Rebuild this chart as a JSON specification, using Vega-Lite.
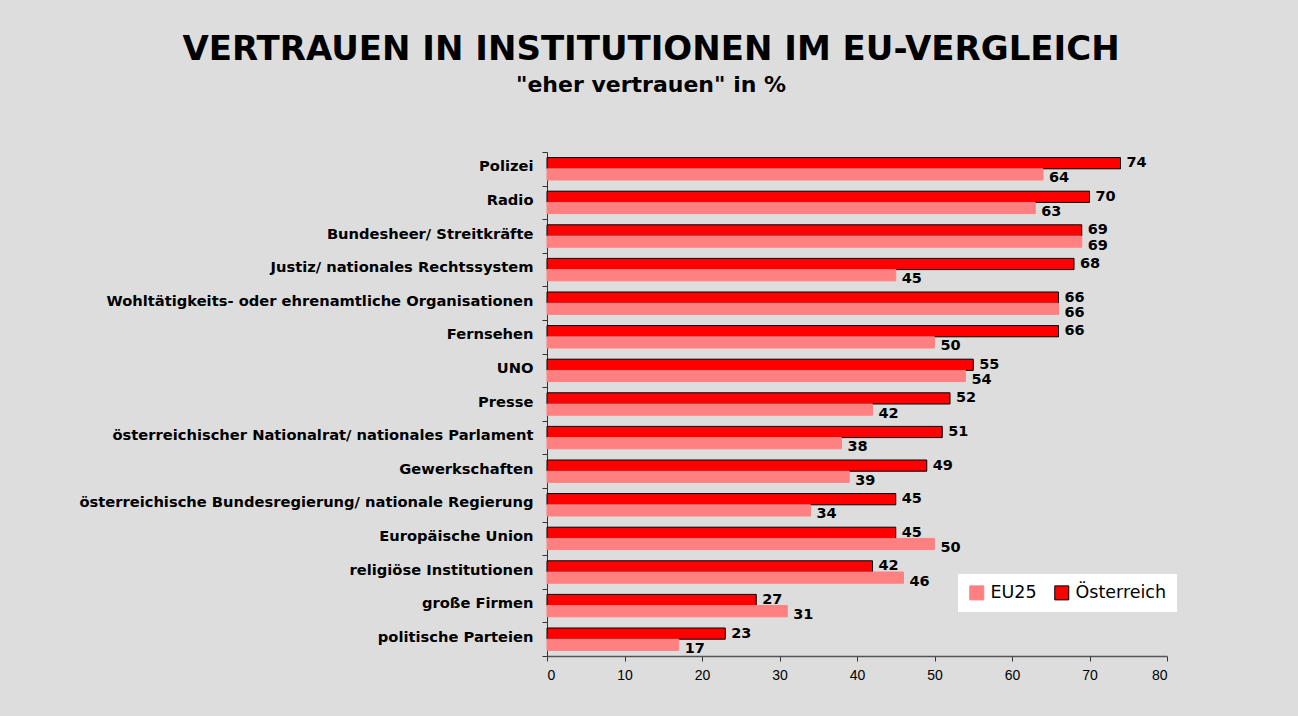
{
  "$schema": "https://vega.github.io/schema/vega-lite/v6.json",
  "background": "#dddddd",
  "autosize": {"type": "none"},
  "padding": {"left": 547, "top": 152, "right": 131, "bottom": 60},
  "width": 620,
  "height": 504,
  "title": {
    "text": "VERTRAUEN IN INSTITUTIONEN IM EU-VERGLEICH",
    "subtitle": "\"eher vertrauen\" in %",
    "anchor": "middle",
    "frame": "group",
    "dx": -206,
    "font": "DejaVu Sans",
    "fontSize": 34,
    "fontWeight": "bold",
    "color": "#000000",
    "subtitleFont": "DejaVu Sans",
    "subtitleFontSize": 22,
    "subtitleFontWeight": "bold",
    "subtitleColor": "#000000",
    "subtitlePadding": 8,
    "offset": 48
  },
  "data": {
    "values": [
      {"inst": "Polizei", "group": "Österreich", "value": 74},
      {"inst": "Polizei", "group": "EU25", "value": 64},
      {"inst": "Radio", "group": "Österreich", "value": 70},
      {"inst": "Radio", "group": "EU25", "value": 63},
      {"inst": "Bundesheer/ Streitkräfte", "group": "Österreich", "value": 69},
      {"inst": "Bundesheer/ Streitkräfte", "group": "EU25", "value": 69},
      {"inst": "Justiz/ nationales Rechtssystem", "group": "Österreich", "value": 68},
      {"inst": "Justiz/ nationales Rechtssystem", "group": "EU25", "value": 45},
      {"inst": "Wohltätigkeits- oder ehrenamtliche Organisationen", "group": "Österreich", "value": 66},
      {"inst": "Wohltätigkeits- oder ehrenamtliche Organisationen", "group": "EU25", "value": 66},
      {"inst": "Fernsehen", "group": "Österreich", "value": 66},
      {"inst": "Fernsehen", "group": "EU25", "value": 50},
      {"inst": "UNO", "group": "Österreich", "value": 55},
      {"inst": "UNO", "group": "EU25", "value": 54},
      {"inst": "Presse", "group": "Österreich", "value": 52},
      {"inst": "Presse", "group": "EU25", "value": 42},
      {"inst": "österreichischer Nationalrat/ nationales Parlament", "group": "Österreich", "value": 51},
      {"inst": "österreichischer Nationalrat/ nationales Parlament", "group": "EU25", "value": 38},
      {"inst": "Gewerkschaften", "group": "Österreich", "value": 49},
      {"inst": "Gewerkschaften", "group": "EU25", "value": 39},
      {"inst": "österreichische Bundesregierung/ nationale Regierung", "group": "Österreich", "value": 45},
      {"inst": "österreichische Bundesregierung/ nationale Regierung", "group": "EU25", "value": 34},
      {"inst": "Europäische Union", "group": "Österreich", "value": 45},
      {"inst": "Europäische Union", "group": "EU25", "value": 50},
      {"inst": "religiöse Institutionen", "group": "Österreich", "value": 42},
      {"inst": "religiöse Institutionen", "group": "EU25", "value": 46},
      {"inst": "große Firmen", "group": "Österreich", "value": 27},
      {"inst": "große Firmen", "group": "EU25", "value": 31},
      {"inst": "politische Parteien", "group": "Österreich", "value": 23},
      {"inst": "politische Parteien", "group": "EU25", "value": 17}
    ]
  },
  "encoding": {
    "y": {
      "field": "inst",
      "type": "nominal",
      "sort": null,
      "title": null,
      "scale": {"paddingInner": 0, "paddingOuter": 0},
      "axis": {
        "domainColor": "#333333",
        "tickColor": "#333333",
        "tickBand": "extent",
        "tickSize": 5,
        "labelFont": "DejaVu Sans",
        "labelFontWeight": "bold",
        "labelFontSize": 14.7,
        "labelColor": "#000000",
        "labelPadding": 9,
        "labelLimit": 600,
        "labelBaseline": "middle",
        "labelOffset": -2
      }
    },
    "yOffset": {
      "field": "group",
      "type": "nominal",
      "scale": {"domain": ["Österreich", "EU25"], "paddingInner": 0, "paddingOuter": 0.5}
    },
    "x": {
      "field": "value",
      "type": "quantitative",
      "title": null,
      "scale": {"domain": [0, 80]},
      "axis": {
        "values": [0, 10, 20, 30, 40, 50, 60, 70, 80],
        "grid": false,
        "domainColor": "#555555",
        "domainWidth": 1.5,
        "tickColor": "#333333",
        "tickSize": 5,
        "labelFont": "Liberation Sans",
        "labelFontSize": 14,
        "labelColor": "#000000",
        "labelPadding": 7
      }
    }
  },
  "layer": [
    {
      "mark": {"type": "bar", "strokeWidth": 1},
      "encoding": {
        "fill": {
          "field": "group",
          "type": "nominal",
          "scale": {"domain": ["EU25", "Österreich"], "range": ["#ff8080", "#ff0000"]},
          "legend": {
            "title": null,
            "orient": "none",
            "legendX": 411,
            "legendY": 422,
            "direction": "horizontal",
            "fillColor": "#ffffff",
            "padding": 10,
            "symbolType": "square",
            "symbolSize": 196,
            "symbolStrokeWidth": 1,
            "labelFont": "DejaVu Sans",
            "labelFontSize": 17.5,
            "labelColor": "#000000",
            "columnPadding": 15,
            "labelOffset": 5
          }
        },
        "stroke": {
          "field": "group",
          "type": "nominal",
          "scale": {"domain": ["EU25", "Österreich"], "range": ["#ff8080", "#000000"]},
          "legend": {
            "title": null,
            "orient": "none",
            "legendX": 411,
            "legendY": 422,
            "direction": "horizontal",
            "fillColor": "#ffffff",
            "padding": 10,
            "symbolType": "square",
            "symbolSize": 196,
            "symbolStrokeWidth": 1,
            "labelFont": "DejaVu Sans",
            "labelFontSize": 17.5,
            "labelColor": "#000000",
            "columnPadding": 15,
            "labelOffset": 5
          }
        }
      }
    },
    {
      "transform": [{"filter": "datum.group === 'Österreich'"}],
      "mark": {"type": "text", "align": "left", "baseline": "middle", "dx": 6, "dy": 0, "font": "DejaVu Sans", "fontWeight": "bold", "fontSize": 14.5, "color": "#000000"},
      "encoding": {"text": {"field": "value", "type": "quantitative"}}
    },
    {
      "transform": [{"filter": "datum.group === 'EU25'"}],
      "mark": {"type": "text", "align": "left", "baseline": "middle", "dx": 6, "dy": 4, "font": "DejaVu Sans", "fontWeight": "bold", "fontSize": 14.5, "color": "#000000"},
      "encoding": {"text": {"field": "value", "type": "quantitative"}}
    }
  ],
  "config": {"view": {"stroke": null}}
}
